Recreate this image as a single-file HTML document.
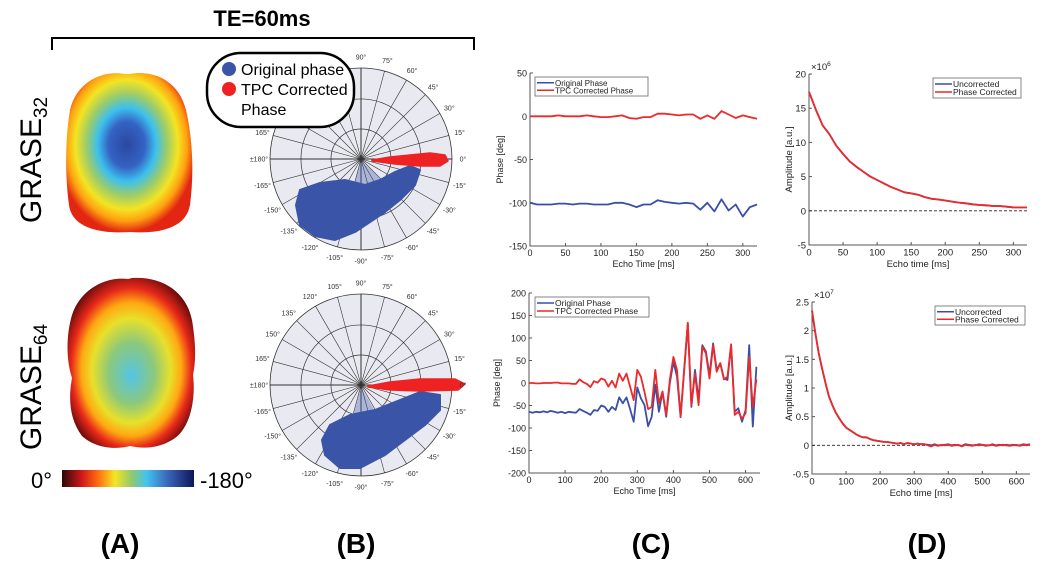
<!DOCTYPE html>
<html><head><meta charset="utf-8"><style>
html,body{margin:0;padding:0;background:#fff;}
svg{display:block;font-family:"Liberation Sans",sans-serif;}
</style></head><body>
<svg id="fig" width="1043" height="585" viewBox="0 0 1043 585" xmlns="http://www.w3.org/2000/svg">
<defs>
<radialGradient id="g1" cx="0.48" cy="0.45" r="0.55">
<stop offset="0" stop-color="#2a48a0"/><stop offset="0.26" stop-color="#3562c4"/><stop offset="0.42" stop-color="#3cc0ee"/><stop offset="0.58" stop-color="#9ccc6a"/><stop offset="0.74" stop-color="#f4e422"/><stop offset="0.87" stop-color="#ffa010"/><stop offset="1" stop-color="#e22612"/></radialGradient>
<radialGradient id="g2" cx="0.5" cy="0.52" fx="0.5" fy="0.58" r="0.56">
<stop offset="0" stop-color="#52c6e6"/><stop offset="0.32" stop-color="#8cc87c"/><stop offset="0.55" stop-color="#e8e02a"/><stop offset="0.7" stop-color="#ffa812"/><stop offset="0.84" stop-color="#e8281a"/><stop offset="1" stop-color="#6a0c0c"/></radialGradient>
<linearGradient id="cb" x1="0" x2="1" y1="0" y2="0">
<stop offset="0" stop-color="#2a0808"/><stop offset="0.15" stop-color="#d01818"/><stop offset="0.27" stop-color="#ff6a12"/><stop offset="0.4" stop-color="#f6e424"/><stop offset="0.53" stop-color="#90c870"/><stop offset="0.64" stop-color="#42c4ee"/><stop offset="0.8" stop-color="#3a66bc"/><stop offset="1" stop-color="#0e1658"/></linearGradient>
</defs>
<g>
<text x="262" y="26" font-size="22" font-weight="bold" text-anchor="middle">TE=60ms</text>
<path d="M52,50 V38 H474 V50" fill="none" stroke="#000" stroke-width="2"/>
</g>
<g>
<text transform="translate(41,160) rotate(-90)" font-size="30" text-anchor="middle">GRASE<tspan font-size="19" dy="6">32</tspan></text>
<text transform="translate(41,387) rotate(-90)" font-size="30" text-anchor="middle">GRASE<tspan font-size="19" dy="6">64</tspan></text>
<path fill="url(#g1)" d="M130,74 C150,70 178,78 186,110 C193,140 194,175 190,205 C186,228 160,234 130,232 C100,234 72,228 69,205 C65,175 65,140 70,110 C77,80 105,70 125,74 Z"/>
<path fill="url(#g2)" d="M132,278 C160,276 186,290 192,320 C196,345 196,360 193,375 C196,400 190,430 172,440 C155,450 140,448 130,446 C115,450 95,448 82,436 C70,420 68,400 72,378 C66,360 66,335 72,315 C80,290 105,276 128,279 Z"/>
<rect x="62" y="470" width="132" height="17" fill="url(#cb)"/>
<text x="31" y="488" font-size="22">0°</text>
<text x="200" y="488" font-size="22">-180°</text>
</g>
<g id="polars"></g>
<g id="charts"></g>
<g font-size="28" font-weight="bold" text-anchor="middle">
<text x="120" y="553">(A)</text>
<text x="356" y="553">(B)</text>
<text x="651" y="553">(C)</text>
<text x="927" y="553">(D)</text>
</g>
</svg>
<script>
// ---- Panel C top (GRASE32 phase) ----
const cTopTimes = [0,10,20,30,40,50,60,70,80,90,100,110,120,130,140,150,160,170,180,190,200,210,220,230,240,250,260,270,280,290,300,310,320];
const cTopOriginal = [-100,-102,-102,-102,-101,-101,-102,-101,-101,-102,-102,-102,-100,-100,-102,-105,-102,-102,-97,-99,-100,-101,-100,-101,-108,-100,-110,-96,-109,-102,-116,-105,-102];
const cTopCorrected = [0,0,0,0,1,0,0,0,1,0,-1,-1,0,1,-2,-3,-1,-1,3,3,2,1,2,2,-3,1,-3,6,2,-2,1,-1,-3];
const cTopYTicks = [50,0,-50,-100,-150];
const cTopXTicks = [0,50,100,150,200,250,300];
// ---- Panel C bottom (GRASE64 phase) ----
const cBotOriginal = [-64,-66,-64,-65,-63,-65,-62,-64,-66,-64,-67,-64,-65,-66,-58,-62,-66,-71,-60,-62,-50,-53,-64,-53,-60,-32,-45,-32,-58,-86,-10,-34,-49,-96,-75,-4,-64,-19,-75,-1,47,14,-76,30,132,-53,29,-38,84,70,18,88,29,44,10,7,84,-64,-56,-86,-60,84,-97,36];
const cBotCorrected = [0,0,-1,-1,0,0,0,1,1,-1,-1,-1,-2,-2,8,2,-2,-9,4,1,10,7,-8,5,-10,21,5,21,-8,-38,29,14,-20,-58,-53,29,-45,-19,-71,7,58,29,-75,30,134,-49,21,-49,81,66,10,84,25,44,8,14,86,-71,-64,-79,-67,58,-53,8];
const cBotYTicks = [200,150,100,50,0,-50,-100,-150,-200];
const cBotXTicks = [0,100,200,300,400,500,600];
// ---- Panel D top (amplitude x1e6) ----
const dTopTimes = [0,10,20,30,40,50,60,70,80,90,100,110,120,130,140,150,160,170,180,190,200,210,220,230,240,250,260,270,280,290,300,310,320];
const dTopCorrected = [17.4,14.8,12.5,11.2,9.5,8.3,7.2,6.4,5.7,5.0,4.5,4.0,3.5,3.1,2.7,2.55,2.35,2.0,1.75,1.65,1.5,1.35,1.2,1.1,0.95,0.85,0.8,0.7,0.7,0.6,0.5,0.5,0.5];
const dTopUncorrected = [17.4,14.8,12.5,11.2,9.5,8.3,7.2,6.4,5.7,5.0,4.5,4.0,3.5,3.1,2.7,2.55,2.35,2.0,1.75,1.65,1.5,1.35,1.2,1.1,0.95,0.85,0.8,0.7,0.7,0.6,0.5,0.5,0.5];
const dTopYTicks = [20,15,10,5,0,-5];
const dTopXTicks = [0,50,100,150,200,250,300];
// ---- Panel D bottom (amplitude x1e7) ----
const dBotCorrected = [2.35,1.95,1.6,1.33,1.08,0.85,0.7,0.57,0.47,0.38,0.31,0.27,0.23,0.19,0.16,0.14,0.14,0.11,0.09,0.08,0.07,0.06,0.06,0.05,0.04,0.03,0.04,0.02,0.04,0.03,0.02,0.03,0.02,0.02,0.0,-0.02,0.01,-0.01,0.01,0.0,0.01,-0.01,0.0,0.01,-0.02,0.01,0.0,-0.01,0.01,0.0,0.01,-0.01,0.0,0.01,-0.01,0.0,0.01,0.0,-0.01,0.0,0.01,-0.01,0.01,0.0,0.01];
const dBotUncorrected = [2.35,1.95,1.6,1.33,1.08,0.85,0.7,0.57,0.47,0.38,0.31,0.27,0.23,0.19,0.16,0.14,0.14,0.11,0.09,0.08,0.07,0.06,0.06,0.05,0.04,0.03,0.04,0.02,0.04,0.03,0.02,0.03,0.02,0.02,0.01,0.0,0.02,0.0,0.0,0.01,0.02,0.0,0.01,0.0,-0.01,0.02,0.01,0.0,0.0,0.02,0.01,0.0,0.0,0.02,0.0,0.01,0.0,0.01,0.0,0.01,0.0,0.0,0.02,0.01,0.02];
const dBotYTicks = [2.5,2,1.5,1,0.5,0,-0.5];
const dBotXTicks = [0,100,200,300,400,500,600];
// ---- Polar ----
const polarLabelAngles = [90,75,60,45,30,15,0,-15,-30,-45,-60,-75,-90,-105,-120,-135,-150,-165,180,165,150,135,120,105];

const NS='http://www.w3.org/2000/svg';
function mk(tag,attrs,parent){const e=document.createElementNS(NS,tag);for(const k in attrs)e.setAttribute(k,attrs[k]);parent.appendChild(e);return e;}
const charts=document.getElementById('charts');
const BLUE='#3a4fa8', RED='#ec2a2a';

function chart(o){
  const g=mk('g',{},charts);
  
  
  const sx=v=>o.x0+(v-o.xmin)/(o.xmax-o.xmin)*(o.x1-o.x0);
  const sy=v=>o.y1-(v-o.ymin)/(o.ymax-o.ymin)*(o.y1-o.y0);
  const ax=mk('path',{d:`M${o.x0},${o.y0} V${o.y1} H${o.x1}`,fill:'none',stroke:'#555','stroke-width':1},g);
  
  
  o.yt.forEach(t=>{
    mk('line',{x1:o.x0,x2:o.x0+3,y1:sy(t),y2:sy(t),stroke:'#555'},g);
    const tx=mk('text',{x:o.x0-3,y:sy(t)+3.5,'font-size':o.fs,'text-anchor':'end',fill:'#222'},g);
    tx.textContent=t;
    
    
  });
  o.xt.forEach(t=>{
    mk('line',{x1:sx(t),x2:sx(t),y1:o.y1,y2:o.y1-3,stroke:'#555'},g);
    const tx=mk('text',{x:sx(t),y:o.y1+o.fs+1,'font-size':o.fs,'text-anchor':'middle',fill:'#222'},g);
    tx.textContent=t;
    
    
  });
  if(o.zero){const z=mk('line',{x1:o.x0,x2:o.x1,y1:sy(0),y2:sy(0),stroke:'#222','stroke-dasharray':'3,2','stroke-width':0.8},g);
    
    }
  o.series.forEach(s=>{
    const d=s.v.map((v,i)=>(i?'L':'M')+sx(o.t[i]).toFixed(1)+','+sy(v).toFixed(1)).join(' ');
    const p=mk('path',{d:d,fill:'none',stroke:s.c,'stroke-width':1.8,'stroke-linejoin':'round'},g);
    
    
  });
  const yl=mk('text',{transform:`translate(${o.ylx},${(o.y0+o.y1)/2}) rotate(-90)`,'font-size':o.fs,'text-anchor':'middle',fill:'#222'},g);
  yl.textContent=o.ylab;
  
  
  const xl=mk('text',{x:(o.x0+o.x1)/2,y:o.y1+2*o.fs+3,'font-size':o.fs,'text-anchor':'middle',fill:'#222'},g);
  xl.textContent=o.xlab;
  
  
  if(o.exp){const e=mk('text',{x:o.x0+2,y:o.y0-4,'font-size':o.fs,fill:'#222'},g);e.innerHTML='×10<tspan font-size="'+(o.fs-3)+'" dy="-4">'+o.exp+'</tspan>';
    
    }
  const L=o.leg;const lg=mk('g',{},g);
  
  
  mk('rect',{x:L.x,y:L.y,width:L.w,height:L.h,fill:'#fff',stroke:'#666','stroke-width':0.8},lg);
  o.series.forEach((s,i)=>{
    const yy=L.y+5+i*(L.h-4)/2+((L.h-4)/4)-3;
    mk('line',{x1:L.x+2,x2:L.x+19,y1:yy,y2:yy,stroke:s.c,'stroke-width':1.6},lg);
    const t=mk('text',{x:L.x+20,y:yy+3,'font-size':L.fs,fill:'#222'},lg);t.textContent=s.label;
    
    
  });
}
const tBot=cBotOriginal.map((_,i)=>i*10);
const tDBot=dBotCorrected.map((_,i)=>i*10);
chart({name:'phase-chart-grase32',x0:530,x1:757,y0:73,y1:246,xmin:0,xmax:320,ymin:-150,ymax:50,yt:cTopYTicks,xt:cTopXTicks,t:cTopTimes,fs:9,ylx:503,ylab:'Phase [deg]',xlab:'Echo Time [ms]',
 series:[{v:cTopOriginal,c:BLUE,n:'original-phase-line',label:'Original Phase'},{v:cTopCorrected,c:RED,n:'corrected-phase-line',label:'TPC Corrected Phase'}],
 leg:{x:535,y:77,w:113,h:19,fs:8}});
chart({name:'phase-chart-grase64',x0:529,x1:760,y0:293,y1:473,xmin:0,xmax:640,ymin:-200,ymax:200,yt:cBotYTicks,xt:cBotXTicks,t:tBot,fs:9,ylx:500,ylab:'Phase [deg]',xlab:'Echo Time [ms]',
 series:[{v:cBotOriginal,c:BLUE,n:'original-phase-line',label:'Original Phase'},{v:cBotCorrected,c:RED,n:'corrected-phase-line',label:'TPC Corrected Phase'}],
 leg:{x:535,y:297,w:114,h:20,fs:8.5}});
chart({name:'amplitude-chart-grase32',x0:809,x1:1027,y0:74,y1:245,xmin:0,xmax:320,ymin:-5,ymax:20,yt:dTopYTicks,xt:dTopXTicks,t:dTopTimes,fs:9.5,ylx:792,ylab:'Amplitude [a.u.]',xlab:'Echo time [ms]',exp:'6',zero:true,
 series:[{v:dTopUncorrected,c:BLUE,n:'uncorrected-line',label:'Uncorrected'},{v:dTopCorrected,c:RED,n:'phase-corrected-line',label:'Phase Corrected'}],
 leg:{x:933,y:78,w:88,h:20,fs:8.5}});
chart({name:'amplitude-chart-grase64',x0:812,x1:1030,y0:302,y1:474,xmin:0,xmax:640,ymin:-0.5,ymax:2.5,yt:dBotYTicks,xt:dBotXTicks,t:tDBot,fs:9.5,ylx:792,ylab:'Amplitude [a.u.]',xlab:'Echo time [ms]',exp:'7',zero:true,
 series:[{v:dBotUncorrected,c:BLUE,n:'uncorrected-line',label:'Uncorrected'},{v:dBotCorrected,c:RED,n:'phase-corrected-line',label:'Phase Corrected'}],
 leg:{x:935,y:306,w:90,h:19,fs:8.5}});

// ---- polar plots ----
const polars=document.getElementById('polars');
function polar(name,cx,cy,R,blue,red,spray){
  const g=mk('g',{},polars);
  
  
  mk('circle',{cx:cx,cy:cy,r:R,fill:'#e9e9f1',stroke:'#333','stroke-width':0.8},g);
  [0.33,0.66].forEach(f=>mk('circle',{cx:cx,cy:cy,r:R*f,fill:'none',stroke:'#333','stroke-width':0.7},g));
  for(let a=0;a<360;a+=15){const r=a*Math.PI/180;
    mk('line',{x1:cx,y1:cy,x2:cx+R*Math.cos(r),y2:cy-R*Math.sin(r),stroke:'#333','stroke-width':a%90?0.6:1},g);}
  const pts=(arr)=>'M'+arr.map(p=>(cx+p[0]).toFixed(1)+','+(cy+p[1]).toFixed(1)).join(' L')+' Z';
  if(spray){const s=mk('path',{d:pts(spray),fill:'#3a55a8',opacity:0.35},g);
    
    }
  const b=mk('path',{d:pts(blue),fill:'#3a55a8',stroke:'#3a55a8','stroke-width':2,'stroke-linejoin':'round'},g);
  
  
  const rd=mk('path',{d:pts(red),fill:'#ee2222',stroke:'#ee2222','stroke-width':1.5,'stroke-linejoin':'round'},g);
  
  
  polarLabelAngles.forEach(a=>{const r=a*Math.PI/180;
    const lx=cx+(R+11)*Math.cos(r), ly=cy-(R+11)*Math.sin(r)+2.5;
    const t=mk('text',{x:lx,y:ly,'font-size':7,'text-anchor':'middle',fill:'#333'},g);
    t.textContent=(a===180?'±180':a)+'°';
    
    });
}
polar('polar-grase32',361,159,91,
 [[-61,31],[-41,24],[-16,21],[4,26],[19,21],[34,13],[49,7],[59,11],[54,26],[39,41],[24,53],[9,63],[-6,73],[-26,81],[-46,77],[-61,66],[-65,46]],
 [[11,1],[29,-2],[49,-4],[69,-6],[84,-4],[87,2],[79,7],[59,7],[34,5],[11,2]],
 [[0,2],[30,28],[-10,35]]);
polar('polar-grase64',361,385,91,
 [[-31,40],[-11,30],[14,25],[39,15],[59,7],[79,10],[79,25],[64,40],[44,55],[24,70],[-1,83],[-21,83],[-36,70],[-39,55]],
 [[7,1],[29,-3],[59,-6],[94,-6],[104,-1],[97,5],[59,6],[29,5],[7,2]],
 [[0,2],[15,28],[-8,32]]);
// polar legend
const lg=mk('g',{},polars);


mk('rect',{x:207,y:53,width:147,height:74,rx:34,fill:'#fff',stroke:'#000','stroke-width':2.5},lg);
mk('circle',{cx:229,cy:69,r:7,fill:'#3a55a8'},lg);
mk('circle',{cx:229,cy:89,r:7,fill:'#ee2222'},lg);
[['Original phase',75],['TPC Corrected',95],['Phase',115]].forEach(([s,y])=>{
  const t=mk('text',{x:241,y:y,'font-size':16,fill:'#000'},lg);t.textContent=s;
  
  });
</script>
</body></html>
